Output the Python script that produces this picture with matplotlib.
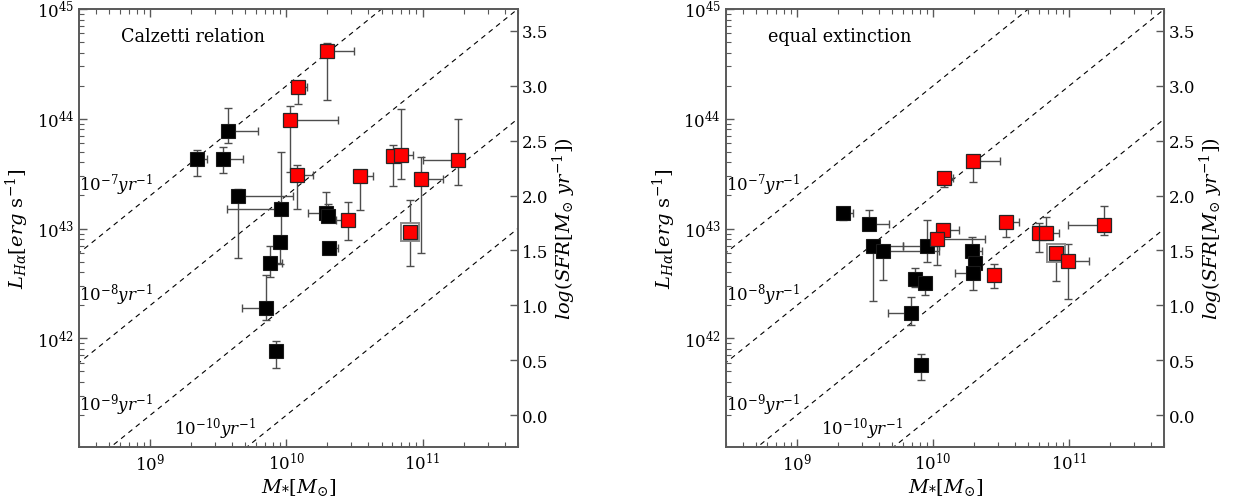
import numpy as np
import matplotlib
matplotlib.use("Agg")
import matplotlib.pyplot as plt
from matplotlib.ticker import FormatStrFormatter, FixedLocator

plt.rcParams['font.family'] = ['DejaVu Serif']
plt.rcParams['mathtext.fontset'] = 'dejavuserif'

# ---------------- data: left panel (Calzetti relation) ----------------
# black points
cal_blk_M    = [2.19e9, 3.72e9, 3.4e9, 4.39e9, 9.1e9, 9.0e9, 7.57e9, 7.05e9, 8.35e9, 1.95e10, 2.03e10, 2.06e10]
cal_blk_L    = [4.26e43, 7.7e43, 4.26e43, 1.96e43, 1.52e43, 7.6e42, 4.84e42, 1.87e42, 7.6e41, 1.38e43, 1.3e43, 6.7e42]
cal_blk_Llo  = [3.04e43, 6.0e43, 3.2e43, 5.37e42, 6.9e42, 4.8e42, 3.6e42, 1.47e42, 5.4e41, 1.38e43, 1.3e43, 6.7e42]
cal_blk_Lhi  = [5.18e43, 1.26e44, 5.5e43, 2.3e43, 5.0e43, 7.6e42, 7.0e42, 3.8e42, 9.5e41, 2.17e43, 1.66e43, 6.7e42]
cal_blk_Mlo  = [2.02e9, 3.72e9, 3.4e9, 4.39e9, 3.64e9, 9.0e9, 7.57e9, 4.7e9, 8.35e9, 1.45e10, 2.03e10, 2.06e10]
cal_blk_Mhi  = [2.62e9, 6.2e9, 4.82e9, 1.12e10, 9.1e9, 9.0e9, 9.3e9, 7.05e9, 8.35e9, 1.95e10, 2.03e10, 2.4e10]
# red points
cal_red_M    = [2.0e10, 1.22e10, 1.07e10, 1.19e10, 2.85e10, 3.5e10, 6.1e10, 6.9e10, 9.8e10, 1.83e11, 8.07e10]
cal_red_L    = [4.1e44, 1.96e44, 9.7e43, 3.1e43, 1.2e43, 3.0e43, 4.6e43, 4.7e43, 2.85e43, 4.17e43, 9.3e42]
cal_red_Llo  = [1.48e44, 1.36e44, 3.24e43, 1.52e43, 7.9e42, 1.48e43, 2.45e43, 2.8e43, 5.97e42, 2.48e43, 4.57e42]
cal_red_Lhi  = [4.9e44, 2.1e44, 1.31e44, 3.78e43, 1.75e43, 3.0e43, 5.75e43, 1.23e44, 4.5e43, 1.0e44, 1.82e43]
cal_red_Mlo  = [1.8e10, 1.22e10, 1.07e10, 1.19e10, 2.3e10, 3.5e10, 6.1e10, 6.9e10, 9.8e10, 1.0e11, 7.6e10]
cal_red_Mhi  = [3.15e10, 1.42e10, 2.4e10, 1.57e10, 2.85e10, 4.35e10, 6.1e10, 8.55e10, 1.41e11, 1.83e11, 8.07e10]
cal_framed   = [10]   # index of red point drawn with a frame

# ---------------- data: right panel (equal extinction) ----------------
eq_blk_M    = [2.19e9, 3.4e9, 3.64e9, 4.3e9, 8.97e9, 7.35e9, 8.7e9, 6.9e9, 8.2e9, 1.92e10, 2.03e10, 1.95e10]
eq_blk_L    = [1.39e43, 1.11e43, 6.9e42, 6.2e42, 7.0e42, 3.5e42, 3.2e42, 1.71e42, 5.7e41, 6.2e42, 4.84e42, 3.92e42]
eq_blk_Llo  = [1.2e43, 1.11e43, 2.19e42, 3.4e42, 5.0e42, 2.92e42, 2.5e42, 1.32e42, 4.2e41, 6.2e42, 4.84e42, 2.75e42]
eq_blk_Lhi  = [1.45e43, 1.46e43, 6.9e42, 6.2e42, 1.19e43, 4.37e42, 3.2e42, 2.4e42, 7.24e41, 8.3e42, 4.84e42, 3.92e42]
eq_blk_Mlo  = [2.02e9, 3.4e9, 3.64e9, 4.3e9, 6.0e9, 7.35e9, 8.7e9, 4.7e9, 8.2e9, 1.92e10, 2.03e10, 1.45e10]
eq_blk_Mhi  = [2.6e9, 4.76e9, 6.0e9, 1.1e10, 1.11e10, 7.35e9, 8.7e9, 6.9e9, 8.2e9, 2.28e10, 2.03e10, 1.95e10]
eq_red_M    = [1.95e10, 1.2e10, 1.19e10, 1.06e10, 2.8e10, 3.43e10, 5.98e10, 6.8e10, 7.98e10, 9.8e10, 1.8e11]
eq_red_L    = [4.1e43, 2.9e43, 9.75e42, 8.0e42, 3.8e42, 1.15e43, 9.1e42, 9.1e42, 5.97e42, 5.1e42, 1.08e43]
eq_red_Llo  = [2.63e43, 2.4e43, 9.75e42, 4.68e42, 2.88e42, 8.3e42, 6.17e42, 9.1e42, 3.3e42, 2.27e42, 8.65e42]
eq_red_Lhi  = [4.3e43, 2.9e43, 9.75e42, 8.0e42, 4.73e42, 1.15e43, 1.12e43, 1.27e43, 5.97e42, 7.2e42, 1.61e43]
eq_red_Mlo  = [1.95e10, 1.2e10, 1.19e10, 1.06e10, 2.8e10, 3.43e10, 5.98e10, 6.8e10, 7.5e10, 9.8e10, 9.8e10]
eq_red_Mhi  = [3.1e10, 1.41e10, 1.56e10, 2.4e10, 2.8e10, 4.3e10, 5.98e10, 8.4e10, 7.98e10, 1.4e11, 1.8e11]
eq_framed   = [8]

# specific SFR lines and their labels
ssfr_values = [1e-7, 1e-8, 1e-9, 1e-10]
ssfr_labels = [r'$10^{-7}yr^{-1}$', r'$10^{-8}yr^{-1}$', r'$10^{-9}yr^{-1}$', r'$10^{-10}yr^{-1}$']
ssfr_label_pos = [(3e8, 2.5e43), (3e8, 2.5e42), (3e8, 2.5e41), (1.5e9, 1.5e41)]
LOGL_SFR_OFFSET = 41.30   # log L(Halpha) - log SFR

panel_titles = ['Calzetti relation', 'equal extinction']

XLIM = (3e8, 5e11)
YLIM = (1.03e41, 1e45)

fig = plt.figure(figsize=(12.33, 5.02), dpi=100)
axes = [fig.add_axes([0.0641, 0.1082, 0.3558, 0.872]),
        fig.add_axes([0.5886, 0.1082, 0.3558, 0.872])]

panels = [
    (cal_blk_M, cal_blk_L, cal_blk_Llo, cal_blk_Lhi, cal_blk_Mlo, cal_blk_Mhi,
     cal_red_M, cal_red_L, cal_red_Llo, cal_red_Lhi, cal_red_Mlo, cal_red_Mhi, cal_framed),
    (eq_blk_M, eq_blk_L, eq_blk_Llo, eq_blk_Lhi, eq_blk_Mlo, eq_blk_Mhi,
     eq_red_M, eq_red_L, eq_red_Llo, eq_red_Lhi, eq_red_Mlo, eq_red_Mhi, eq_framed),
]

spine_col = '0.35'
for ax, title, pdata in zip(axes, panel_titles, panels):
    (bM, bL, bLlo, bLhi, bMlo, bMhi, rM, rL, rLlo, rLhi, rMlo, rMhi, framed) = pdata
    bM, bL, bLlo, bLhi, bMlo, bMhi = map(np.array, (bM, bL, bLlo, bLhi, bMlo, bMhi))
    rM, rL, rLlo, rLhi, rMlo, rMhi = map(np.array, (rM, rL, rLlo, rLhi, rMlo, rMhi))

    ax.set_xscale('log')
    ax.set_yscale('log')
    ax.set_xlim(*XLIM)
    ax.set_ylim(*YLIM)

    # sSFR lines
    mgrid = np.logspace(8.3, 11.9, 50)
    for s in ssfr_values:
        ax.plot(mgrid, mgrid * s * 10**LOGL_SFR_OFFSET, ls=(0, (4.5, 4)), color='k', lw=0.8, zorder=1)
    for lab, (px, py) in zip(ssfr_labels, ssfr_label_pos):
        ax.text(px, py, lab, fontsize=12, ha='left', va='center', zorder=2)

    ekw = dict(fmt='none', ecolor='0.3', elinewidth=1.0, capsize=2.8, capthick=1.0, zorder=3)
    ax.errorbar(bM, bL, yerr=[bL - bLlo, bLhi - bL], xerr=[bM - bMlo, bMhi - bM], **ekw)
    ax.errorbar(rM, rL, yerr=[rL - rLlo, rLhi - rL], xerr=[rM - rMlo, rMhi - rM], **ekw)

    # framed markers (behind the red square)
    fr = np.array(framed)
    ax.plot(rM[fr], rL[fr], 's', ms=13, mfc='white', mec='0.55', mew=1.4, ls='none', zorder=4)

    ax.plot(bM, bL, 's', ms=10.5, mfc='black', mec='0.1', mew=0.8, ls='none', zorder=5)
    ax.plot(rM, rL, 's', ms=10.5, mfc='#ff0000', mec='0.15', mew=0.9, ls='none', zorder=6)

    ax.text(0.096, 0.938, title, transform=ax.transAxes, fontsize=12.7, ha='left', va='center')

    ax.set_xlabel(r'$M_{*}[M_{\odot}]$', fontsize=14, labelpad=2)
    ax.set_ylabel(r'$L_{H\alpha}[erg\ \mathrm{s}^{-1}]$', fontsize=14, labelpad=4)

    for sp in ax.spines.values():
        sp.set_color(spine_col)
        sp.set_linewidth(1.2)
    ax.tick_params(which='both', direction='in', top=True, right=False, color=spine_col,
                   labelsize=12, labelcolor='black')
    ax.tick_params(which='major', length=6, width=1)
    ax.tick_params(which='minor', length=3.5, width=0.8)

    ax2 = ax.twinx()
    ax2.set_ylim(np.log10(YLIM[0]) - LOGL_SFR_OFFSET, np.log10(YLIM[1]) - LOGL_SFR_OFFSET)
    ax2.yaxis.set_major_locator(FixedLocator([0.0, 0.5, 1.0, 1.5, 2.0, 2.5, 3.0, 3.5]))
    ax2.yaxis.set_major_formatter(FormatStrFormatter('%.1f'))
    ax2.tick_params(direction='in', length=6, width=1, pad=3, color=spine_col, labelsize=12, labelcolor='black')
    for sp in ax2.spines.values():
        sp.set_color(spine_col)
        sp.set_linewidth(1.2)
    ax2.set_ylabel(r'$log(SFR[M_{\odot}\ yr^{-1}])$', fontsize=14, labelpad=2)

fig.savefig('out.png', dpi=100)
